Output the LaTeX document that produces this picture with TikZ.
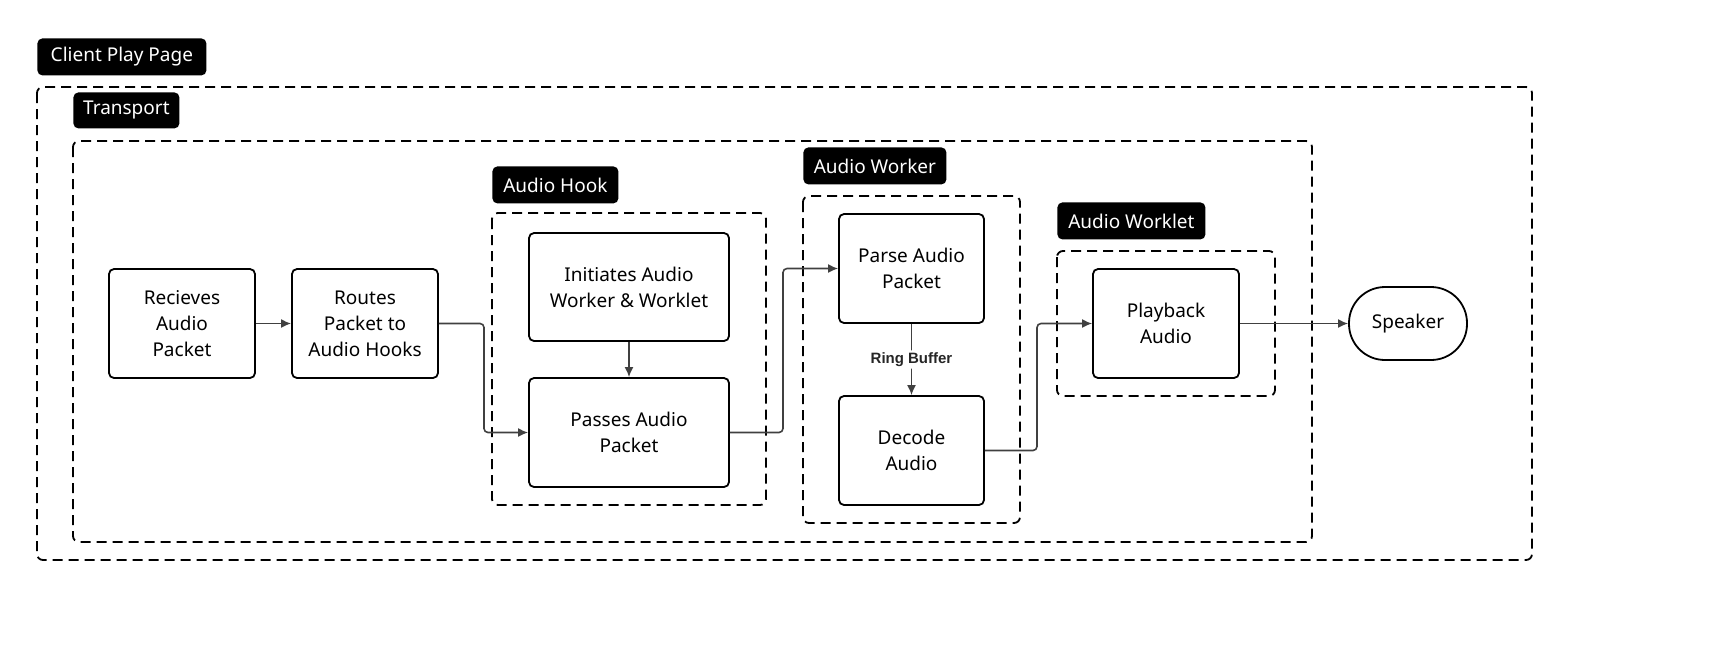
\documentclass[tikz,border=0pt]{standalone}
\usepackage{fontspec}
\setmainfont{Noto Sans}
\newfontfamily\rbfont{Liberation Sans}
\usetikzlibrary{arrows.meta}
\begin{document}
\begin{tikzpicture}[x=0.5pt,y=-0.5pt,
  box/.style={draw,line width=0.9pt,rounded corners=2.5pt,align=center,font=\fontsize{9.5}{13}\selectfont,inner sep=0pt},
  grp/.style={draw,line width=0.9pt,dash pattern=on 5pt off 3pt,rounded corners=3pt},
  tag/.style={fill=black,text=white,rounded corners=2.5pt,font=\fontsize{9.5}{11}\selectfont,inner sep=0pt,anchor=north west},
  arr/.style={draw=black!75,line width=0.8pt,-{Latex[length=5pt,width=4.5pt]},rounded corners=2pt}]
\useasboundingbox (0,0) rectangle (1720,655);
% groups
\draw[grp] (37,87) rectangle (1532,560);
\draw[grp] (73,141) rectangle (1312,542);
\draw[grp] (492,213) rectangle (766,505);
\draw[grp] (803,196) rectangle (1020,523);
\draw[grp] (1057,251) rectangle (1275,396);
% tags
\node[tag,minimum width=84.5pt,minimum height=18.5pt] (tcp) at (37,38) {Client Play Page};
\node[tag,minimum width=53pt,minimum height=18pt] (ttr) at (73,92) {Transport};
\node[tag,minimum width=63pt,minimum height=18.5pt] (tah) at (492,166) {Audio Hook};
\node[tag,minimum width=71.5pt,minimum height=18.5pt] (taw) at (803,147) {Audio Worker};
\node[tag,minimum width=74pt,minimum height=18.5pt] (tawl) at (1057,202) {Audio Worklet};
% boxes
\node[box,minimum width=73pt,minimum height=54.5pt] (rec) at (182,323.5) {Recieves\\Audio\\Packet};
\node[box,minimum width=73pt,minimum height=54.5pt] (rou) at (365,323.5) {Routes\\Packet to\\Audio Hooks};
\node[box,minimum width=100pt,minimum height=54pt] (ini) at (629,287) {Initiates Audio\\Worker \& Worklet};
\node[box,minimum width=100pt,minimum height=54.5pt] (pas) at (629,432.5) {Passes Audio\\Packet};
\node[box,minimum width=72.5pt,minimum height=54.5pt] (par) at (911.5,268.5) {Parse Audio\\Packet};
\node[box,minimum width=72.5pt,minimum height=54.5pt] (dec) at (911.5,450.5) {Decode\\Audio};
\node[box,minimum width=73pt,minimum height=54.5pt] (pla) at (1166,323.5) {Playback\\Audio};
\node[box,minimum width=59pt,minimum height=36.5pt,rounded corners=18pt] (spk) at (1408,323.5) {Speaker};
% connectors
\draw[arr] (rec) -- (rou);
\draw[arr] (rou.east) -- (484,323.5) -- (484,432.5) -- (pas.west);
\draw[arr] (ini) -- (pas);
\draw[arr] (pas.east) -- (783,432.5) -- (783,268.5) -- (par.west);
\draw[arr] (par) -- node[fill=white,inner sep=1pt,font=\rbfont\bfseries\fontsize{7.5}{8}\selectfont,text=black!85]{Ring Buffer} (dec);
\draw[arr] (dec.east) -- (1037,450.5) -- (1037,323.5) -- (pla.west);
\draw[arr] (pla) -- (spk);
\end{tikzpicture}
\end{document}
